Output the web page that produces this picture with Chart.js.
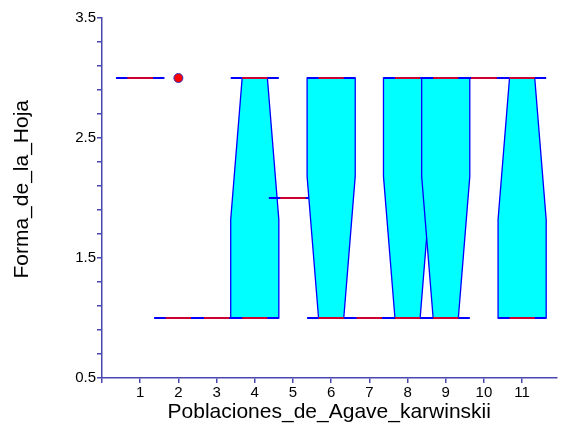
<!DOCTYPE html>
<html>
<head>
<meta charset="utf-8">
<script src="https://cdn.jsdelivr.net/npm/chart.js@4/dist/chart.umd.min.js"></script>
<style>
  body { margin: 0; background: #fff; }
</style>
</head>
<body>
<canvas id="box_chart" width="562" height="434"></canvas>
<script>
// populations 1..11
const poblaciones = [1, 2, 3, 4, 5, 6, 7, 8, 9, 10, 11];
const q1 = [3, 1, 1, 1, 2, 1, 1, 1, 1, 3, 1];
const q3 = [3, 1, 1, 3, 2, 3, 1, 3, 3, 3, 3];
const mediana = [3, 1, 1, 3, 2, 1, 1, 1, 1, 3, 3];
const minimo = [3, 1, 1, 1, 2, 1, 1, 1, 1, 3, 1];
const maximo = [3, 1, 1, 3, 2, 3, 1, 3, 3, 3, 3];
const muescaInf = [3, 1, 1, 1.82, 2, -0.18, 1, -0.18, -0.18, 3, 1.82];
const muescaSup = [3, 1, 1, 4.18, 2, 2.18, 1, 2.18, 2.18, 3, 4.18];
const atipicoX = [2];
const atipicoY = [3];
const yTicks = [0.5, 0.7, 0.9, 1.1, 1.3, 1.5, 1.7, 1.9, 2.1, 2.3, 2.5, 2.7, 2.9, 3.1, 3.3, 3.5];
const yLabels = [0.5, 1.5, 2.5, 3.5];
const xTicks = [0, 1, 2, 3, 4, 5, 6, 7, 8, 9, 10, 11];

const axisColor = "#4848b0";
const boxHalf = 0.63;
const notchHalf = 0.33;

const notchedBoxes = {
    id: "notchedBoxes",
    beforeDatasetsDraw(chart) {
        const ctx = chart.ctx;
        const xs = chart.scales.x;
        const ys = chart.scales.y;
        ctx.save();
        poblaciones.forEach((p, i) => {
            const med = mediana[i];
            const lo = muescaInf[i], hi = muescaSup[i];
            const halfAt = (v) => {
                if (v >= med && hi > med && v < hi) return notchHalf + (boxHalf - notchHalf) * (v - med) / (hi - med);
                if (v <= med && lo < med && v > lo) return notchHalf + (boxHalf - notchHalf) * (med - v) / (med - lo);
                if (v == med) return notchHalf;
                return boxHalf;
            };
            // box outline with notch
            if (q3[i] > q1[i]) {
                const levels = [q1[i]];
                if (lo > q1[i] && lo < q3[i]) levels.push(lo);
                if (med > q1[i] && med < q3[i]) levels.push(med);
                if (hi > q1[i] && hi < q3[i]) levels.push(hi);
                levels.push(q3[i]);
                ctx.beginPath();
                levels.forEach((v, k) => {
                    const px = xs.getPixelForValue(p - halfAt(v));
                    const py = ys.getPixelForValue(v);
                    if (k == 0) ctx.moveTo(px, py); else ctx.lineTo(px, py);
                });
                levels.slice().reverse().forEach((v) => {
                    ctx.lineTo(xs.getPixelForValue(p + halfAt(v)), ys.getPixelForValue(v));
                });
                ctx.closePath();
                ctx.fillStyle = "#00ffff";
                ctx.fill();
                ctx.strokeStyle = "#0000ff";
                ctx.lineWidth = 1.3;
                ctx.stroke();
            }
            // box edges, full width
            ctx.strokeStyle = "#0000ff";
            ctx.lineWidth = 2;
            [q1[i], q3[i]].forEach((v) => {
                ctx.beginPath();
                ctx.moveTo(xs.getPixelForValue(p - boxHalf), ys.getPixelForValue(v));
                ctx.lineTo(xs.getPixelForValue(p + boxHalf), ys.getPixelForValue(v));
                ctx.stroke();
            });
            // whisker caps
            ctx.strokeStyle = "#cc0033";
            [minimo[i], maximo[i]].forEach((v) => {
                ctx.beginPath();
                ctx.moveTo(xs.getPixelForValue(p - notchHalf), ys.getPixelForValue(v));
                ctx.lineTo(xs.getPixelForValue(p + notchHalf), ys.getPixelForValue(v));
                ctx.stroke();
            });
        });
        ctx.restore();
    },
};

const ctx = document.getElementById("box_chart").getContext("2d");
const myChart = new Chart(ctx, {
    type: "scatter",
    data: {
        datasets: [
            {
                label: "atipicos",
                data: atipicoX.map((x, i) => ({ x: x, y: atipicoY[i] })),
                backgroundColor: "#ff0000",
                borderColor: "#3030c0",
                borderWidth: 1,
                pointRadius: 4.5,
            },
        ],
    },
    options: {
        responsive: false,
        animation: false,
        devicePixelRatio: 1,
        layout: { padding: { top: 18, right: 0, left: 0, bottom: 0 } },
        plugins: { legend: { display: false }, tooltip: { enabled: false } },
        scales: {
            x: {
                type: "linear",
                min: 0,
                max: 11.9,
                afterBuildTicks: (s) => { s.ticks = xTicks.map((v) => ({ value: v })); },
                afterFit: (s) => { s.height = 56; },
                ticks: {
                    autoSkip: false,
                    maxRotation: 0,
                    color: "#000",
                    font: { family: "Liberation Sans", size: 15 },
                    padding: 1,
                    callback: (v) => (poblaciones.includes(v) ? String(v) : ""),
                },
                grid: { drawOnChartArea: false, drawTicks: true, tickLength: 5, color: axisColor, lineWidth: 1.5 },
                border: { color: axisColor, width: 1.5 },
                title: {
                    display: true,
                    text: "Poblaciones_de_Agave_karwinskii",
                    color: "#000",
                    font: { family: "Liberation Sans", size: 21 },
                    padding: { top: 0, bottom: 9 },
                },
            },
            y: {
                min: 0.5,
                max: 3.5,
                afterBuildTicks: (s) => { s.ticks = yTicks.map((v) => ({ value: v })); },
                afterFit: (s) => { s.width = 102; },
                ticks: {
                    autoSkip: false,
                    color: "#000",
                    font: { family: "Liberation Sans", size: 15 },
                    padding: 1,
                    callback: (v) => (yLabels.some((l) => Math.abs(l - v) < 1e-6) ? v.toFixed(1) : ""),
                },
                grid: { drawOnChartArea: false, drawTicks: true, tickLength: 5, color: axisColor, lineWidth: 1.5 },
                border: { color: axisColor, width: 1.5 },
                title: {
                    display: true,
                    text: "   Forma_de_la_Hoja",
                    color: "#000",
                    font: { family: "Liberation Sans", size: 21 },
                    padding: { top: 10, bottom: 0 },
                },
            },
        },
    },
    plugins: [notchedBoxes],
});
</script>
</body>
</html>
